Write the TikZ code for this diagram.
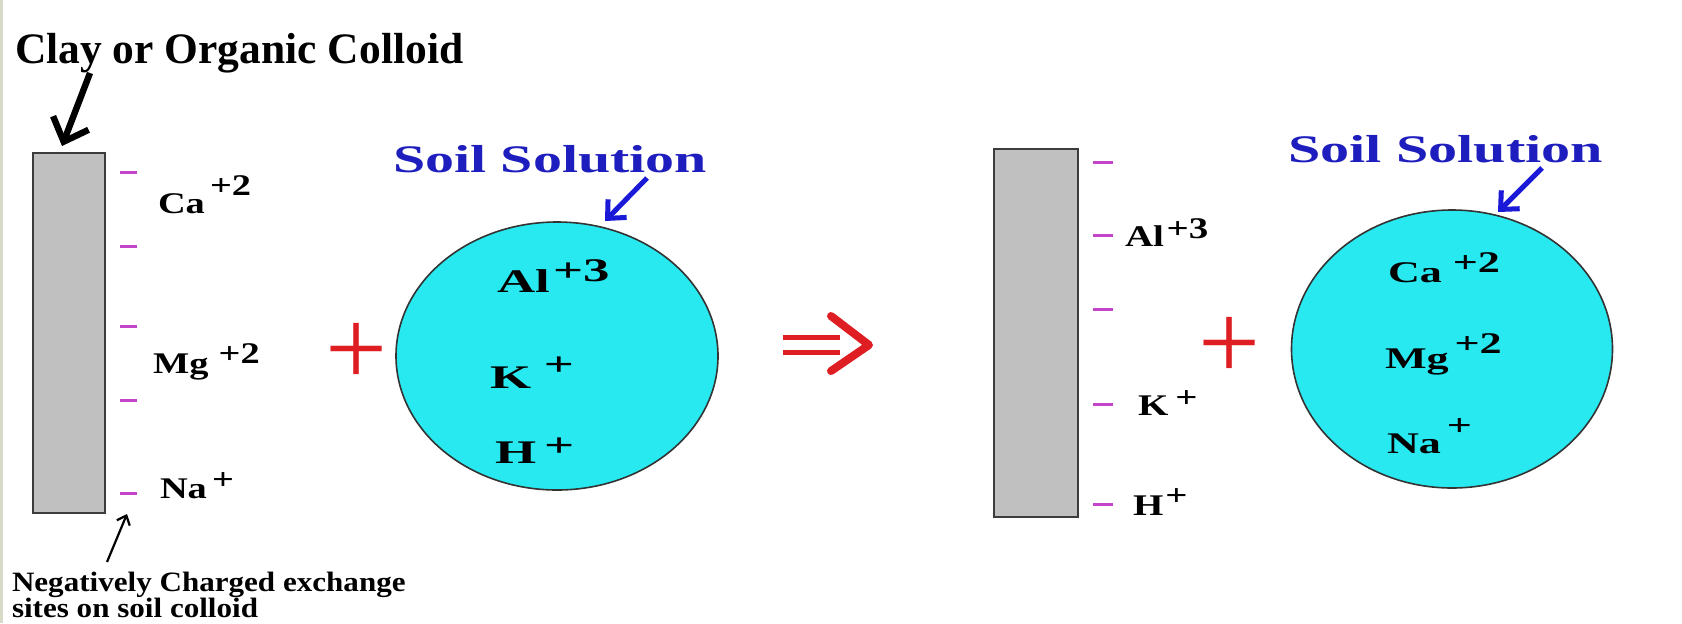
\documentclass[tikz,border=0pt]{standalone}
\usepackage{fontspec}
\setmainfont{Liberation Serif}
\usetikzlibrary{arrows.meta,shapes.geometric}
\definecolor{cyanfill}{RGB}{40,232,240}
\definecolor{dashcol}{RGB}{196,70,200}
\definecolor{bluelbl}{RGB}{30,30,190}
\definecolor{bluearr}{RGB}{25,25,215}
\definecolor{redsign}{RGB}{222,30,34}
\definecolor{grayfill}{RGB}{192,192,192}
\definecolor{edgegray}{RGB}{60,60,60}
\definecolor{bordercol}{RGB}{214,219,200}
\newcommand\ionlab[5]{\scalebox{#1}[1]{#2\hspace{#4}\raisebox{#5}{#3}}}
\begin{document}
\begin{tikzpicture}[x=0.5pt,y=-0.5pt,
  txt/.style={anchor=base west, inner sep=0pt, outer sep=0pt, text=black},
  ionside/.style={txt, font=\bfseries\fontsize{15}{18}\selectfont},
  ioncirc/.style={txt, font=\bfseries\fontsize{16.5}{20}\selectfont},
  ioncircr/.style={txt, font=\bfseries\fontsize{15}{18}\selectfont},
  noteline/.style={txt, font=\bfseries\fontsize{14}{16}\selectfont},
  colloid/.style={rectangle, draw=edgegray, line width=1pt, fill=grayfill, inner sep=0pt},
  solution/.style={ellipse, draw=black!80, line width=0.8pt, fill=cyanfill, inner sep=0pt},
  negsite/.style={draw=dashcol, line width=1.5pt},
  soillbl/.style={txt, text=bluelbl, font=\bfseries\fontsize{19.5}{23}\selectfont},
  bluept/.style={draw=bluearr, line width=2.5pt, -{Straight Barb[length=7pt,width=13pt]}},
  blackpt/.style={draw=black, line width=3.2pt, -{Straight Barb[length=10pt,width=19pt]}},
  thinpt/.style={draw=black, line width=1.1pt, -{Straight Barb[length=4pt,width=7pt]}},
  plussign/.style={inner sep=0pt, outer sep=0pt, text=redsign, font=\fontsize{55}{55}\selectfont},
  redline/.style={draw=redsign, line cap=round, line join=round}
]
\useasboundingbox (0,0) rectangle (1682,623);
\fill[white] (0,0) rectangle (1682,623);
\fill[bordercol] (0,0) rectangle (3,623);

% ---------- left panel ----------
\node[txt, font=\bfseries\fontsize{21.75}{26}\selectfont] (clay) at (15,63) {Clay or Organic Colloid};
\node[colloid, minimum width=36pt, minimum height=180pt] (colL) at (69,333) {};
\coordinate (clayTail) at (90,73);
\coordinate (clayTip) at (62,146);
\draw[blackpt] (clayTail) -- (clayTip);

\foreach \yy in {172,246,326,400,493} \draw[negsite] (120,\yy) -- (137,\yy);

\node[ionside] (caL) at (158,213) {\ionlab{1.28}{Ca}{+2}{2pt}{9pt}};
\node[ionside] (mgL) at (153,373) {\ionlab{1.28}{Mg}{+2}{4pt}{5pt}};
\node[ionside] (naL) at (160,498) {\ionlab{1.28}{Na}{+}{2pt}{4.5pt}};

\coordinate (siteTail) at (107,562);
\coordinate (siteTip) at (127,514);
\draw[thinpt] (siteTail) -- (siteTip);
\node[noteline] (neg1) at (12,591) {\scalebox{1.11}[1]{Negatively Charged exchange}};
\node[noteline] (neg2) at (12,617) {\scalebox{1.11}[1]{sites on soil colloid}};

\node[plussign] (plusL) at (357,354) {+};

\node[solution, minimum width=161pt, minimum height=134pt] (solL) at (557,356) {};
\node[soillbl] (soilL) at (393,172) {\resizebox{157pt}{\height}{Soil Solution}};
\coordinate (soilLTail) at (647,178);
\coordinate (soilLTip) at (605,221);
\draw[bluept] (soilLTail) -- (soilLTip);

\node[ioncirc] (alC) at (497,292) {\ionlab{1.6}{Al}{+3}{1pt}{5.5pt}};
\node[ioncirc] (kC) at (490,388) {\ionlab{1.6}{K}{+}{4pt}{6.5pt}};
\node[ioncirc] (hC) at (495,463) {\ionlab{1.6}{H}{+}{2.5pt}{3.5pt}};

% ---------- reaction arrow ----------
\coordinate (bar1a) at (783,337); \coordinate (bar1b) at (840,337);
\coordinate (bar2a) at (783,352); \coordinate (bar2b) at (840,352);
\coordinate (chevA) at (831,316); \coordinate (chevTip) at (869,345); \coordinate (chevB) at (831,371);
\draw[redline, line width=2.5pt, line cap=butt] (bar1a) -- (bar1b) (bar2a) -- (bar2b);
\draw[redline, line width=4pt] (chevA) -- (chevTip) -- (chevB);

% ---------- right panel ----------
\node[colloid, minimum width=42pt, minimum height=184pt] (colR) at (1036,333) {};
\foreach \yy in {162,235,309,404,504} \draw[negsite] (1093,\yy) -- (1113,\yy);

\node[ionside] (alR) at (1125,246) {\ionlab{1.3}{Al}{+3}{1pt}{4pt}};
\node[ionside] (kR) at (1138,415) {\ionlab{1.3}{K}{+}{2.7pt}{3.75pt}};
\node[ionside] (hR) at (1133,515) {\ionlab{1.3}{H}{+}{0.8pt}{5pt}};

\node[plussign] (plusR) at (1230,348) {+};

\node[solution, minimum width=160.5pt, minimum height=139pt] (solR) at (1452,349) {};
\node[soillbl] (soilR) at (1288,162) {\resizebox{157.5pt}{\height}{Soil Solution}};
\coordinate (soilRTail) at (1542,168);
\coordinate (soilRTip) at (1498,212);
\draw[bluept] (soilRTail) -- (soilRTip);

\node[ioncircr] (caC) at (1388,282) {\ionlab{1.47}{Ca}{+2}{3.7pt}{5pt}};
\node[ioncircr] (mgC) at (1385,368) {\ionlab{1.47}{Mg}{+2}{2pt}{7.5pt}};
\node[ioncircr] (naC) at (1387,453) {\ionlab{1.47}{Na}{+}{2pt}{8.7pt}};
\end{tikzpicture}
\end{document}
